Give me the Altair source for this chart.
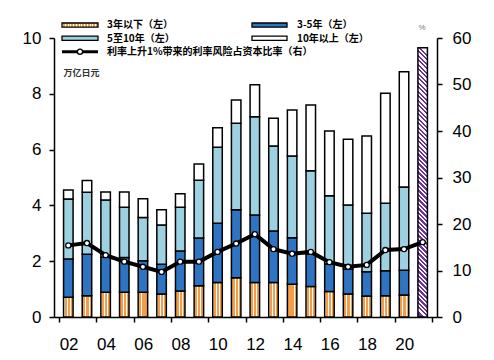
import altair as alt
import pandas as pd

# ---------------- data ----------------
years = list(range(2002, 2022))
# 万亿日元, amounts per maturity bucket (2002-2020)
under3 = [0.71, 0.76, 0.89, 0.89, 0.89, 0.82, 0.93, 1.12, 1.24, 1.41,
          1.24, 1.24, 1.17, 1.09, 0.91, 0.82, 0.75, 0.76, 0.79]
y3to5 = [1.37, 1.49, 1.25, 1.24, 1.13, 1.07, 1.44, 1.71, 2.12, 2.43,
         2.42, 1.84, 1.67, 1.16, 0.99, 0.90, 0.87, 0.90, 0.89]
y5to10 = [2.15, 2.22, 2.05, 1.80, 1.55, 1.41, 1.56, 2.07, 2.72, 3.10,
          3.52, 3.05, 2.93, 2.99, 2.45, 2.29, 2.10, 2.42, 2.98]
over10 = [0.32, 0.42, 0.29, 0.55, 0.67, 0.54, 0.49, 0.58, 0.70, 0.84,
          1.14, 0.99, 1.65, 2.36, 2.32, 2.36, 2.77, 3.94, 4.13]
total_2021 = [9.65]
# % (right axis)
ratio = [15.4, 15.9, 13.3, 11.9, 10.8, 9.7, 11.9, 11.9, 14.0, 15.8,
         17.8, 14.6, 13.6, 14.0, 11.8, 10.8, 11.2, 14.4, 14.6, 16.1]

legend_labels = ["3年以下（左）", "3-5年（左）", "5至10年（左）", "10年以上（左）",
                 "利率上升1%带来的利率风险占资本比率（右）"]
unit_label = "万亿日元"
pct_label = "%"

# ---------------- styles ----------------
ORANGE = "#F39C4A"
DBLUE = "#2E74C3"
LBLUE = "#9DD0E0"
PURPLE = "#7030A0"
FONT = "Liberation Sans"
CJK = "Noto Sans CJK SC"

W, H = 383, 279
BAR = 9.5


def stripes(c1, c2, n, duty=0.5):
    stops = []
    for k in range(n):
        a = k / n
        m = (k + duty) / n
        b = (k + 1) / n
        stops += [{"offset": a, "color": c1}, {"offset": m, "color": c1},
                  {"offset": m, "color": c2}, {"offset": b, "color": c2}]
    return stops


orange_fill = {"gradient": "linear", "x1": 0, "y1": 0, "x2": 1, "y2": 0,
               "stops": stripes("white", ORANGE, 3, 0.3)}
orange_legend_fill = {"gradient": "linear", "x1": 0, "y1": 0, "x2": 1, "y2": 0,
                      "stops": stripes("white", ORANGE, 13, 0.35)}
ph = total_2021[0] / 10 * H
r = BAR / ph
purple_fill = {"gradient": "linear", "x1": 0.5 + r / 2, "y1": 0, "x2": 0.5 - r / 2, "y2": 1,
               "stops": stripes("white", PURPLE, 60, 0.5)}

# ---------------- frames ----------------
df = pd.DataFrame({"year": years[:-1], "u3": under3, "b35": y3to5, "b510": y5to10, "o10": over10})
df["s0"] = 0.0
df["s1"] = df["u3"]
df["s2"] = df["s1"] + df["b35"]
df["s3"] = df["s2"] + df["b510"]
df["s4"] = df["s3"] + df["o10"]
df21 = pd.DataFrame({"year": [years[-1]], "s0": [0.0], "s4": total_2021})
dline = pd.DataFrame({"year": years, "ratio": ratio})

x_enc = alt.X("year:Q", scale=alt.Scale(domain=[2001.5, 2021.5], nice=False, zero=False),
              axis=alt.Axis(values=[2001.5 + 2 * i for i in range(11)],
                            labelExpr="datum.value < 2021 ? substring(toString(datum.value + 0.5), 2, 4) : ''",
                            labelOffset=9.6, labelFlush=False, labelOverlap=False,
                            tickSize=5, tickWidth=1.5, domainWidth=1.5,
                            labelPadding=14, title=None, grid=False))
left_axis = alt.Axis(orient="left", values=[0, 2, 4, 6, 8, 10], tickSize=5, tickWidth=1.5,
                     domainWidth=1.5, labelPadding=8, title=None, grid=False)
yscale = alt.Scale(domain=[0, 10], nice=False)


def seg(lo, hi, fill, data=df):
    return alt.Chart(data).mark_bar(fill=fill, stroke="black", strokeWidth=1.5, size=BAR).encode(
        x=x_enc,
        y=alt.Y(f"{hi}:Q", scale=yscale, axis=left_axis),
        y2=f"{lo}:Q",
    )


bars = alt.layer(
    seg("s0", "s1", orange_fill),
    seg("s1", "s2", DBLUE),
    seg("s2", "s3", LBLUE),
    seg("s3", "s4", "white"),
    seg("s0", "s4", purple_fill, df21),
)

rscale = alt.Scale(domain=[0, 60], nice=False)
right_axis = alt.Axis(orient="right", values=[0, 10, 20, 30, 40, 50, 60], tickSize=5, tickWidth=1.5,
                      domainWidth=1.5, labelPadding=10, title=None, grid=False)
line = alt.Chart(dline).mark_line(color="black", strokeWidth=4).encode(
    x=x_enc, y=alt.Y("ratio:Q", scale=rscale, axis=right_axis))
pts = alt.Chart(dline).mark_point(filled=True, fill="white", stroke="black", strokeWidth=1.3,
                                  size=26, opacity=1).encode(
    x=x_enc, y=alt.Y("ratio:Q", scale=rscale, axis=right_axis))
linelayer = alt.layer(line, pts)

# ---------------- manual legend ----------------
one = pd.DataFrame({"k": [0]})


def swatch(x0, x1, y0, y1, fill):
    return alt.Chart(one).mark_rect(fill=fill, stroke="black", strokeWidth=1.3).encode(
        x=alt.value(x0), x2=alt.value(x1), y=alt.value(y0), y2=alt.value(y1))


def label(x0, y0, text, size=10, color="black", weight="bold"):
    return alt.Chart(one).mark_text(text=text, align="left", baseline="middle", font=CJK,
                                    fontSize=size, fontWeight=weight, color=color).encode(
        x=alt.value(x0), y=alt.value(y0))


legend = [
    swatch(8, 44, -15, -10.8, orange_legend_fill),
    label(53, -13.3, legend_labels[0]),
    swatch(198, 233, -15, -10.8, DBLUE),
    label(243, -13.3, legend_labels[1]),
    swatch(8, 44, -1.8, 2.4, LBLUE),
    label(53, 0.5, legend_labels[2]),
    swatch(198, 233, -1.8, 2.4, "white"),
    label(243, 0.5, legend_labels[3]),
    alt.Chart(one).mark_rule(color="black", strokeWidth=3).encode(
        x=alt.value(8), x2=alt.value(44), y=alt.value(13.7)),
    alt.Chart(one).mark_point(filled=True, fill="white", stroke="black", strokeWidth=1.3,
                              size=26, opacity=1).encode(x=alt.value(26), y=alt.value(13.7)),
    label(53, 14, legend_labels[4]),
    label(9.5, 35, unit_label, size=9, color="#333333"),
    alt.Chart(one).mark_text(text=pct_label, align="center", baseline="middle", font=FONT,
                             fontSize=8, color="#777777").encode(x=alt.value(368), y=alt.value(-10)),
]

chart = alt.layer(bars, linelayer, *legend).resolve_scale(y="independent").properties(
    width=W, height=H,
    padding={"left": 46, "top": 30, "right": 49, "bottom": 35},
    autosize=alt.AutoSizeParams(type="none"),
    background="white",
).configure_view(stroke=None).configure_axis(
    labelFont=FONT, labelFontSize=17, labelColor="black",
    domainColor="black", tickColor="black",
)

chart.save("out.html", embed_options={"renderer": "svg", "actions": False})
